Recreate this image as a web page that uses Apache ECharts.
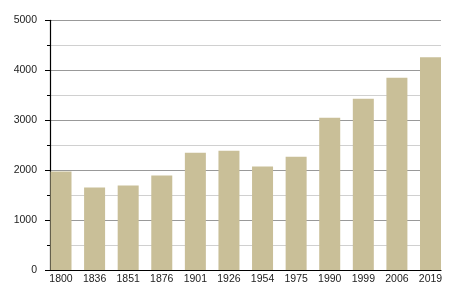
<!DOCTYPE html>
<html><head><meta charset="utf-8">
<script src="https://cdn.jsdelivr.net/npm/echarts@6/dist/echarts.min.js"></script>
<style>html,body{margin:0;padding:0;background:#fff}#c{width:450px;height:300px}</style>
</head><body><div id="c"></div>
<script>
const years = ['1800','1836','1851','1876','1901','1926','1954','1975','1990','1999','2006','2019'];
const population = [1970,1650,1690,1890,2350,2390,2070,2270,3050,3430,3850,4260];
const yMin = 0, yMax = 5000, yStep = 1000;

const chart = echarts.init(document.getElementById('c'), null, {renderer:'canvas'});
const font = {fontFamily:'Liberation Sans, Arial, sans-serif', fontSize:10.5, color:'#222'};
chart.setOption({
  animation:false,
  grid:[
    {left:50, right:9, top:20.3, bottom:30},
    {left:61, right:19.5, top:20.3, bottom:30}
  ],
  xAxis:[
    {gridIndex:0, type:'value', min:0, max:1, axisLine:{show:true,lineStyle:{color:'#000',width:1.2}},
     axisTick:{show:false}, axisLabel:{show:false}, splitLine:{show:false}},
    {gridIndex:1, type:'category', data:years, boundaryGap:false,
     axisLine:{show:false}, axisTick:{show:false},
     axisLabel:Object.assign({margin:4, interval:0}, font)}
  ],
  yAxis:[
    {gridIndex:0, type:'value', min:yMin, max:yMax, interval:yStep,
     axisLine:{show:true,lineStyle:{color:'#000',width:1.2}},
     axisTick:{show:true,length:5,lineStyle:{color:'#000'}},
     minorTick:{show:true,splitNumber:2,length:3,lineStyle:{color:'#000'}},
     splitLine:{show:true,lineStyle:{color:'#999',width:1}},
     minorSplitLine:{show:true,lineStyle:{color:'#d0d0d0',width:1}},
     axisLabel:Object.assign({margin:13, formatter:v=>String(v)}, font)},
    {gridIndex:1, type:'value', min:yMin, max:yMax, show:false}
  ],
  series:[{
    type:'bar', xAxisIndex:1, yAxisIndex:1, data:population, barWidth:21,
    itemStyle:{color:'#c9bf98'}
  }]
});
</script></body></html>
